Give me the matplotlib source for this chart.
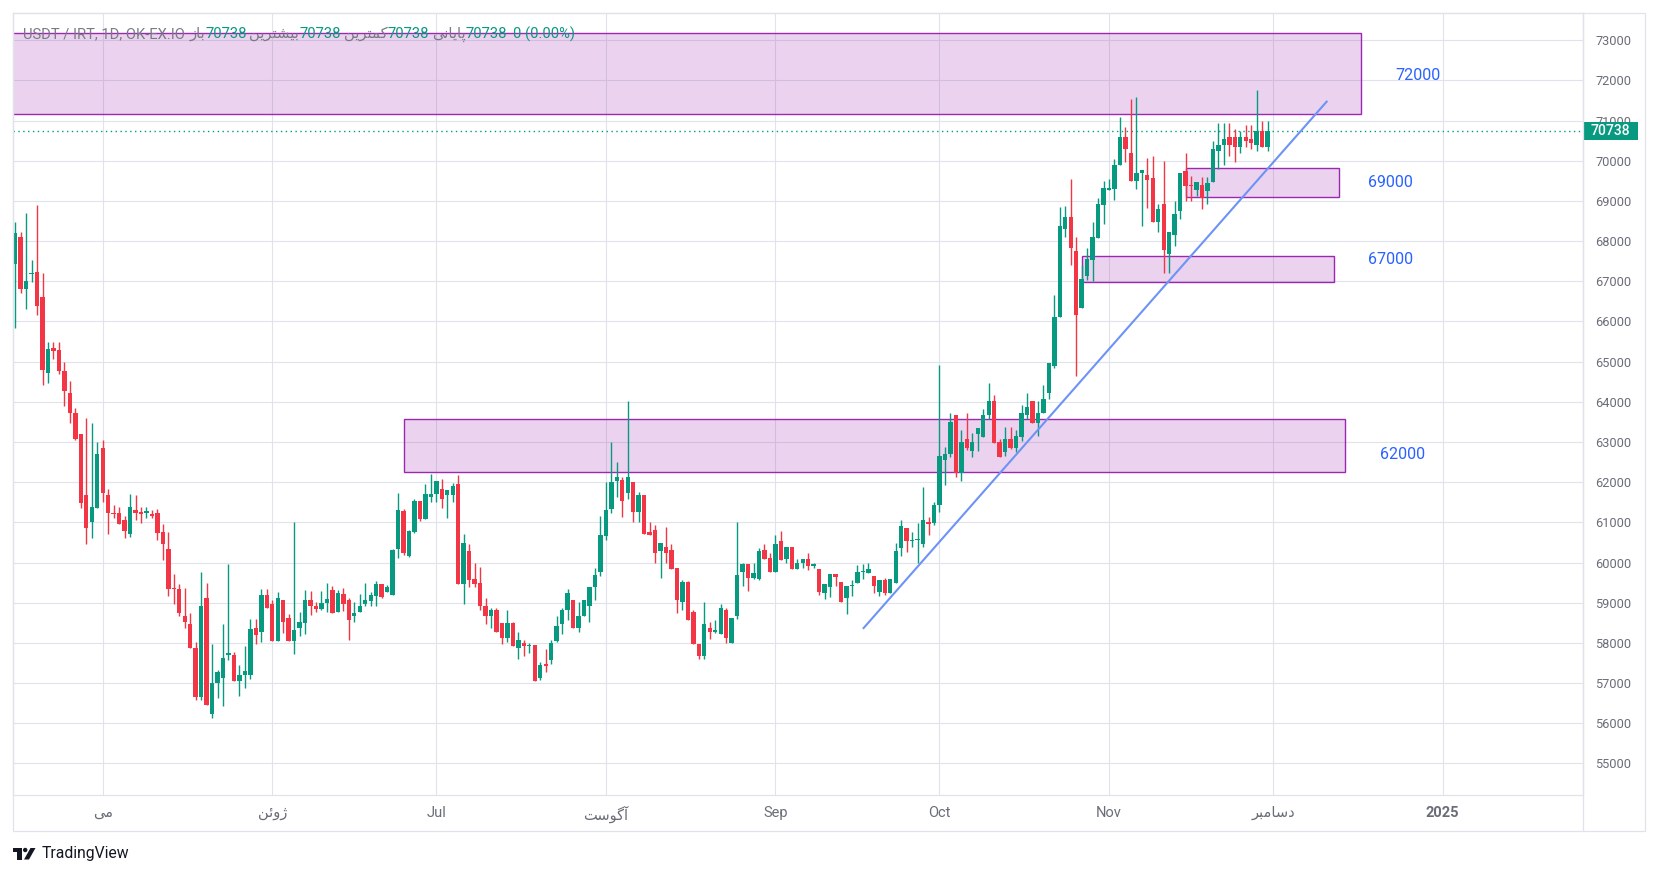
import matplotlib
matplotlib.use("Agg")
import numpy as np
import pandas as pd
import matplotlib.pyplot as plt
import matplotlib.dates as mdates
from matplotlib.patches import Rectangle, Ellipse, Polygon
from matplotlib.lines import Line2D

plt.rcParams['font.family'] = ['Roboto', 'DejaVu Sans']

# USDT/IRT daily candles, one per day starting 2024-04-15
start_date = '2024-04-15'
opens = [
    67420, 68090, 66800, 67180, 67230, 66610, 64720, 65340, 65290, 64760,
    64210, 63730, 63190, 61690, 61020, 61360, 62840, 61690, 61230, 61230,
    61060, 60700, 61310, 61260, 61240, 61200, 61230, 60760, 60340, 59350,
    59330, 58670, 58460, 57870, 56650, 59130, 56240, 56990, 57120, 57700,
    57690, 57060, 57200, 57210, 58360, 58270, 59190, 58960, 58040, 59060,
    58630, 58060, 58370, 58490, 59060, 58930, 58840, 59000, 59310, 58760,
    59210, 59080, 58660, 58760, 58980, 59040, 59170, 59460, 59270, 59180,
    60330, 61280, 60170, 60770, 61530, 61080, 61640, 61700, 61830, 61680,
    61680, 61960, 59460, 60280, 59580, 59480, 58930, 58660, 58810, 58490,
    58120, 58490, 57870, 58010, 57920, 57960, 57130, 57480, 57580, 58060,
    58460, 58810, 59060, 58370, 58660, 58920, 59380, 59770, 60670, 61340,
    62040, 62060, 61740, 62010, 61270, 61680, 60750, 60810, 60290, 60380,
    60310, 59860, 59020, 59510, 58780, 57980, 57670, 58380, 58270, 58210,
    58810, 57990, 58670, 59770, 59960, 59620, 59580, 60310, 60110, 59770,
    60530, 60090, 60380, 59840, 59980, 60080, 59920, 59830, 59240, 59390,
    59710, 59510, 59120, 59410, 59490, 59760, 59740, 59660, 59270, 59560,
    59250, 59490, 60370, 60860, 60540, 60560, 60470, 61010, 60990, 61420,
    62540, 62710, 63660, 62220, 63080, 62780, 63210, 63130, 63660, 64010,
    63010, 62760, 63080, 62860, 63130, 63680, 64010, 63480, 63730, 64230,
    64900, 66120, 68300, 68600, 67750, 66330, 67130, 67530, 68080, 68910,
    69280, 69300, 69900, 70600, 70180, 69500, 69700, 69650, 69580, 68480,
    68930, 67680, 68150, 68750, 69750, 69400, 69280, 69400, 69250, 69480,
    70250, 70400, 70600, 70600, 70350, 70600, 70530, 70380, 70750, 70350,
]
highs = [
    68480, 68230, 68690, 67540, 68910, 67210, 65480, 65480, 65480, 64980,
    64510, 63840, 63210, 63590, 63480, 63010, 63040, 61840, 61430, 61380,
    61160, 61710, 61690, 61380, 61380, 61310, 61340, 60950, 60760, 59720,
    59460, 59370, 58740, 58020, 59770, 59490, 57970, 57320, 58460, 59960,
    57770, 57460, 57920, 58590, 58590, 59350, 59350, 59060, 59260, 59060,
    58720, 61010, 58780, 59310, 59280, 59010, 59280, 59480, 59410, 59310,
    59360, 59130, 59010, 59210, 59480, 59260, 59530, 59460, 59430, 60330,
    61730, 61330, 60810, 61580, 61530, 61960, 62210, 62030, 62080, 61810,
    61980, 62180, 60710, 60460, 59980, 59880, 59110, 58880, 58860, 58490,
    58810, 58530, 58280, 58080, 58010, 57960, 57530, 57860, 58080, 58680,
    58880, 59330, 59060, 59030, 59080, 59380, 59860, 61160, 62010, 63010,
    62510, 62120, 64010, 62010, 61760, 61680, 61000, 60930, 60480, 60880,
    60460, 59860, 59560, 59530, 58830, 57980, 59010, 58530, 58560, 58960,
    58860, 58630, 61010, 59980, 59960, 59980, 60360, 60460, 60230, 60680,
    60780, 60380, 60380, 60080, 60080, 60230, 59980, 59830, 59460, 59710,
    59710, 59510, 59410, 59560, 59930, 59960, 59980, 59660, 59560, 59610,
    59580, 60480, 61060, 60860, 60760, 60980, 61880, 61130, 61510, 64910,
    62880, 63710, 63660, 63310, 63710, 63230, 63360, 63810, 64460, 64180,
    63080, 63380, 63380, 63310, 63910, 64230, 64010, 64010, 64410, 64960,
    66650, 68850, 68880, 69550, 68100, 67400, 67830, 68480, 69080, 69500,
    69550, 70050, 71100, 70850, 71530, 71580, 69780, 70080, 70130, 68930,
    70000, 68230, 69000, 69700, 70200, 69630, 69480, 69600, 69600, 70500,
    70930, 70930, 70930, 70800, 70750, 70900, 70900, 71750, 71000, 71000,
]
lows = [
    65830, 66720, 66320, 66970, 66160, 64420, 64480, 65070, 64700, 63890,
    63480, 63040, 61360, 60470, 60610, 61360, 61500, 60700, 61100, 60950,
    60610, 60630, 61050, 60990, 61120, 61100, 60570, 60070, 59170, 58970,
    58670, 58360, 57870, 56590, 56590, 56460, 56120, 56620, 56420, 57570,
    57050, 56670, 56870, 57100, 57970, 58020, 58870, 58040, 58040, 58240,
    58050, 57720, 58170, 58220, 58690, 58760, 58820, 58780, 58740, 58760,
    58790, 58080, 58510, 58760, 58930, 58930, 58930, 59130, 59270, 59180,
    60110, 60180, 60140, 60740, 61040, 61080, 61510, 61510, 61360, 61110,
    61510, 59460, 58980, 59380, 59380, 58830, 58480, 58380, 58280, 57980,
    58030, 57920, 57610, 57680, 57740, 57060, 57080, 57280, 57480, 58030,
    58210, 58580, 58370, 58280, 58660, 58530, 59080, 59670, 60570, 61240,
    61640, 61140, 61580, 61020, 61020, 60720, 60690, 59990, 59620, 59990,
    59840, 58740, 58810, 58570, 57980, 57590, 57590, 58090, 58250, 58210,
    57990, 57990, 58590, 59420, 59290, 59600, 59560, 60090, 59770, 59770,
    60070, 59990, 59840, 59840, 59860, 59810, 59860, 59190, 59090, 59140,
    59420, 59020, 58720, 59160, 59490, 59580, 59740, 59240, 59170, 59200,
    59250, 59490, 60170, 60270, 60380, 59990, 60390, 60680, 60940, 61270,
    61920, 62630, 62120, 62040, 62810, 62620, 62770, 63130, 63580, 62980,
    62630, 62660, 62830, 62760, 63030, 63580, 63480, 63160, 63730, 64080,
    64850, 66100, 68100, 67400, 64650, 66330, 67030, 67000, 68080, 68430,
    69280, 69030, 69900, 69980, 69500, 69300, 68380, 68830, 68480, 68230,
    67200, 67200, 67880, 68550, 69000, 69000, 69130, 68800, 68930, 69480,
    69800, 69900, 70130, 69980, 70200, 70330, 70300, 70250, 70330, 70250,
]
closes = [
    68200, 66800, 67010, 67210, 66390, 64790, 65310, 65270, 64770, 64270,
    63720, 63070, 61470, 60870, 61380, 62710, 61720, 61240, 61200, 60950,
    60790, 61380, 61240, 61200, 61290, 61170, 60740, 60450, 59350, 59330,
    58740, 58520, 57870, 56650, 58910, 56460, 57010, 57280, 57620, 57760,
    57050, 57210, 57310, 58340, 58200, 59190, 58870, 58040, 59110, 58530,
    58060, 58310, 58530, 59060, 58920, 58840, 59000, 59100, 58740, 59230,
    58970, 58560, 58740, 58930, 59080, 59180, 59460, 59150, 59380, 60310,
    61310, 60230, 60780, 61530, 61080, 61710, 61710, 62030, 61580, 61810,
    61910, 59460, 60480, 59560, 59460, 58930, 58660, 58810, 58280, 58120,
    58490, 57920, 58080, 57920, 57960, 57060, 57460, 57430, 58010, 58420,
    58810, 59230, 58370, 58680, 59060, 59380, 59680, 60680, 61310, 62010,
    62130, 61520, 62130, 61270, 61680, 60720, 60690, 60240, 60480, 60240,
    59840, 59070, 59510, 58570, 57980, 57670, 58460, 58270, 58330, 58860,
    58120, 58630, 59680, 59960, 59620, 59730, 60280, 60090, 59770, 60460,
    60070, 60380, 59840, 59980, 60080, 59920, 59960, 59270, 59460, 59710,
    59640, 59020, 59410, 59430, 59760, 59790, 59830, 59420, 59560, 59250,
    59580, 60280, 60910, 60540, 60570, 60580, 61060, 60970, 61430, 62660,
    62710, 63510, 62220, 63010, 62860, 63010, 63360, 63680, 64010, 62980,
    62630, 63080, 62860, 63160, 63710, 63880, 63480, 63710, 64080, 64960,
    66100, 68380, 68600, 67830, 66150, 67050, 67550, 68100, 68930, 69330,
    69330, 69900, 70600, 70300, 69500, 69700, 69780, 69530, 68480, 68800,
    67780, 68230, 68680, 69700, 69380, 69380, 69480, 69080, 69450, 70300,
    70400, 70530, 70380, 70350, 70580, 70500, 70430, 70750, 70330, 70738,
]
last_price = 70738

# support / resistance zones
zone_labels = ['72000', '69000', '67000', '62000']
zone_low = [71160, 69090, 66970, 62250]
zone_high = [73190, 69820, 67640, 63570]
zone_start = ['2024-04-01', '2024-11-15', '2024-10-27', '2024-06-25']
zone_end = ['2024-12-17', '2024-12-13 02:00', '2024-12-12 05:00', '2024-12-14 02:00']
zone_label_date = ['2024-12-27 14:00', '2024-12-22 12:00', '2024-12-22 12:00', '2024-12-24 14:00']
zone_label_price = [72130, 69470, 67550, 62690]

# rising trend line
trend_dates = ['2024-09-17 00:00', '2024-12-10 22:00']
trend_prices = [58350, 71490]

month_ticks = ['2024-05-01', '2024-06-01', '2024-07-01', '2024-08-01', '2024-09-01',
               '2024-10-01', '2024-11-01', '2024-12-01', '2025-01-01']

# --- minimal Persian shaping (matplotlib has no complex text layout) ---
FORMS = {
    'ا': ('\uFE8D', '\uFE8E', None, None),
    'آ': ('\uFE81', '\uFE82', None, None),
    'ب': ('\uFE8F', '\uFE90', '\uFE91', '\uFE92'),
    'پ': ('\uFB56', '\uFB57', '\uFB58', '\uFB59'),
    'ت': ('\uFE95', '\uFE96', '\uFE97', '\uFE98'),
    'د': ('\uFEA9', '\uFEAA', None, None),
    'ر': ('\uFEAD', '\uFEAE', None, None),
    'ز': ('\uFEAF', '\uFEB0', None, None),
    'ژ': ('\uFB8A', '\uFB8B', None, None),
    'س': ('\uFEB1', '\uFEB2', '\uFEB3', '\uFEB4'),
    'ش': ('\uFEB5', '\uFEB6', '\uFEB7', '\uFEB8'),
    'ک': ('\uFB8E', '\uFB8F', '\uFB90', '\uFB91'),
    'گ': ('\uFB92', '\uFB93', '\uFB94', '\uFB95'),
    'م': ('\uFEE1', '\uFEE2', '\uFEE3', '\uFEE4'),
    'ن': ('\uFEE5', '\uFEE6', '\uFEE7', '\uFEE8'),
    'و': ('\uFEED', '\uFEEE', None, None),
    'ی': ('\uFBFC', '\uFBFD', '\uFBFE', '\uFBFF'),
    'ى': ('\uFEEF', '\uFEF0', '\uFBE8', '\uFBE9'),
    'ئ': ('\uFE89', '\uFE8A', '\uFE8B', '\uFE8C'),
}


def fa(word):
    out = []
    for k, ch in enumerate(word):
        iso, fin, ini, med = FORMS[ch]
        joins_prev = k > 0 and FORMS[word[k - 1]][2] is not None
        joins_next = ini is not None and k < len(word) - 1
        if joins_prev and joins_next:
            out.append(med)
        elif joins_prev:
            out.append(fin)
        elif joins_next:
            out.append(ini)
        else:
            out.append(iso)
    return ''.join(reversed(out))


def dnum(s):
    return mdates.date2num(pd.Timestamp(s))


month_labels = [fa('مى'), fa('ژوئن'), 'Jul', fa('آگوست'), 'Sep', 'Oct', 'Nov', fa('دسامبر'), '2025']

UP, DOWN = '#089981', '#F23645'
GRID = '#E0E3EB'
TXT = '#6A6D78'

W, H = 1658, 876
fig = plt.figure(figsize=(W / 100, H / 100), dpi=100)
fig.patch.set_facecolor('white')
ax_l, ax_r, ax_t, ax_b = 12.7, 1583, 12.7, 795
ax = fig.add_axes([ax_l / W, 1 - ax_b / H, (ax_r - ax_l) / W, (ax_b - ax_t) / H])

dates = pd.date_range(start_date, periods=len(closes), freq='D')
x = mdates.date2num(dates)
o = np.array(opens)
h = np.array(highs)
l = np.array(lows)
c = np.array(closes)
up = c >= o
cols = np.where(up, UP, DOWN)

ax.vlines(x, l, h, colors=cols, linewidth=1.0, zorder=3)
body_lo = np.minimum(o, c)
body_h = np.maximum(np.abs(c - o), 28)
ax.bar(x, body_h, bottom=body_lo, width=0.8, color=cols, linewidth=0, zorder=3)

# zones
for lab, lo, hi, s, e, ld, lp in zip(zone_labels, zone_low, zone_high, zone_start,
                                     zone_end, zone_label_date, zone_label_price):
    xs, xe = dnum(s), dnum(e)
    ax.add_patch(Rectangle((xs, lo), xe - xs, hi - lo, facecolor=(0.612, 0.153, 0.690, 0.2),
                           edgecolor='#9C27B0', linewidth=1.0, zorder=1))
    ax.text(dnum(ld), lp, lab, color='#2962FF', fontsize=11.5,
            ha='center', va='center', zorder=5)

# trend line
ax.plot([dnum(d) for d in trend_dates], trend_prices, color='#6C93F5',
        linewidth=1.5, zorder=4, solid_capstyle='butt')

# last price line and label
ax.axhline(last_price, color=UP, linestyle=(0, (1, 2.5)), linewidth=1.0, zorder=2)
ax.set_ylim(54215, 73684)
ax.set_xlim(dnum('2024-04-14 13:00'), dnum('2025-01-26 16:00'))

tr = matplotlib.transforms.blended_transform_factory(ax.transAxes, ax.transData)
bw = 55 / (ax_r - ax_l)
half = 9.2 / (ax_b - ax_t) * (73684 - 54215)
ax.add_patch(Rectangle((1.0, last_price - half), bw, 2 * half, transform=tr,
                       facecolor=UP, edgecolor='none', clip_on=False, zorder=10))
ax.text(1.0 + bw / 2, last_price, str(last_price), transform=tr, color='white',
        fontsize=10, fontweight='medium', ha='center', va='center', zorder=11, clip_on=False)

# axes, ticks, grid
ax.yaxis.tick_right()
ax.set_yticks(np.arange(55000, 73001, 1000))
ax.set_yticklabels([str(v) for v in range(55000, 73001, 1000)])
ax.set_xticks([dnum(d) for d in month_ticks])
ax.set_xticklabels(month_labels)
ax.tick_params(axis='y', length=0, pad=9, labelcolor=TXT, labelsize=9.2)
ax.tick_params(axis='x', length=0, pad=8, labelcolor=TXT, labelsize=10.5)
xl = ax.get_xticklabels()[-1]
xl.set_fontweight('bold')
ax.grid(True, color=GRID, linewidth=0.8)
ax.set_axisbelow(True)
for sp in ax.spines.values():
    sp.set_color(GRID)
    sp.set_linewidth(0.9)

# outer frame around chart + scales
fig.add_artist(Rectangle((ax_l / W, 1 - 831 / H), (1645 - ax_l) / W, (831 - ax_t) / H,
                         transform=fig.transFigure, fill=False, edgecolor=GRID, linewidth=0.9))
fig.add_artist(Line2D([ax_r / W, ax_r / W], [1 - ax_t / H, 1 - 831 / H],
                      transform=fig.transFigure, color=GRID, linewidth=0.9))

# header line
renderer = fig.canvas.get_renderer()
GRAY, GREEN = '#787B86', UP
pieces = [('USDT / IRT, 1D, OK-EX.IO', GRAY, 4),
          (fa('باز'), GRAY, 0), ('70738', GREEN, 3),
          (fa('بیشترین'), GRAY, 0), ('70738', GREEN, 3),
          (fa('کمترین'), GRAY, 0), ('70738', GREEN, 3),
          (fa('پایانی'), GRAY, 0), ('70738', GREEN, 6),
          ('0 (0.00%)', GREEN, 0)]
px = 23.5
for s, col, gap in pieces:
    t = fig.text(px / W, 1 - 34.0 / H, s, color=col, fontsize=10.6, ha='left', va='center', zorder=20)
    px += t.get_window_extent(renderer).width + gap

# TradingView logo
LOGO = '#131722'
fig.add_artist(Rectangle((13 / W, 1 - 852 / H), 9 / W, 4 / H, transform=fig.transFigure,
                         facecolor=LOGO, edgecolor='none'))
fig.add_artist(Rectangle((17.5 / W, 1 - 859.5 / H), 4.5 / W, 11.5 / H, transform=fig.transFigure,
                         facecolor=LOGO, edgecolor='none'))
fig.add_artist(Ellipse((25.2 / W, 1 - 850 / H), 4.4 / W, 4.4 / H, transform=fig.transFigure,
                       facecolor=LOGO, edgecolor='none'))
fig.add_artist(Polygon([(24 / W, 1 - 859.5 / H), (29 / W, 1 - 859.5 / H),
                        (35.5 / W, 1 - 848 / H), (30.5 / W, 1 - 848 / H)],
                       closed=True, transform=fig.transFigure, facecolor=LOGO, edgecolor='none'))
fig.text(41.5 / W, 1 - 853.5 / H, 'TradingView', color=LOGO, fontsize=11.3, ha='left', va='center')

fig.savefig('out.png', dpi=100, facecolor='white')
